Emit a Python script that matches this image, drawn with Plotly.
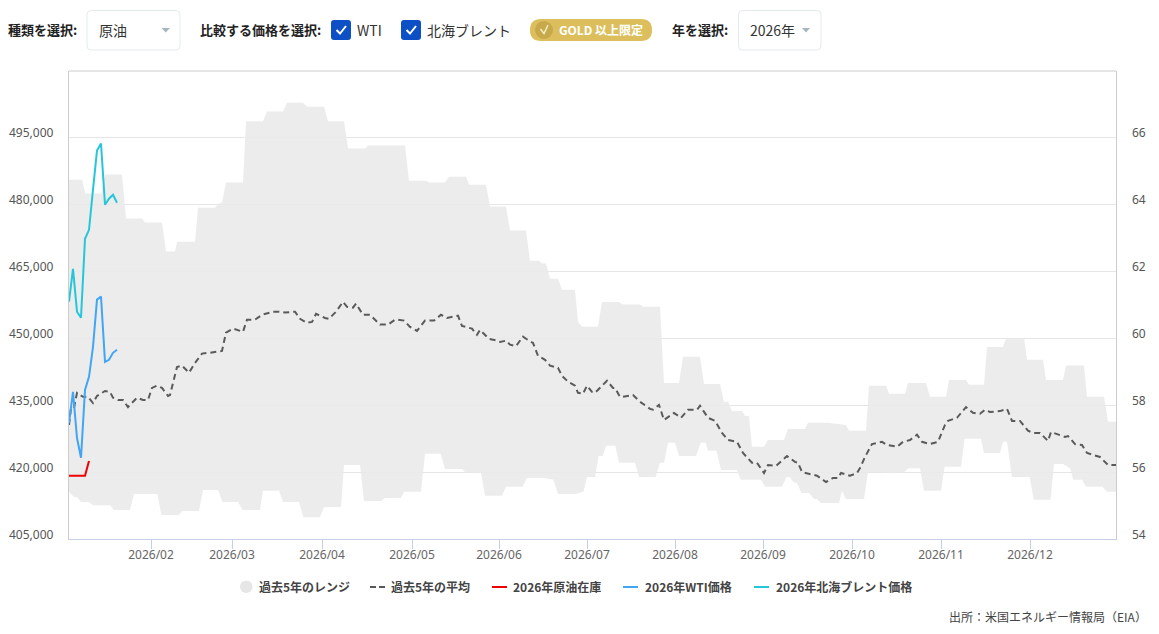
import plotly.graph_objects as go

# ---- data ----
month_labels = ["2026/02", "2026/03", "2026/04", "2026/05", "2026/06", "2026/07",
                "2026/08", "2026/09", "2026/10", "2026/11", "2026/12"]
month_pos = [20.5, 40.75, 63.25, 85.75, 107.5, 129.5, 151.5, 173.5, 195.75, 218, 240.25]

stock_ticks = [405000, 420000, 435000, 450000, 465000, 480000, 495000]
price_ticks = [54, 56, 58, 60, 62, 64, 66]

upper_day = [0, 3.25, 4.1, 8.1, 9, 13.25, 14.25, 18.25, 19, 23.25, 24.25, 26.5, 27, 31.5, 32.25, 36.5, 37.25,
             38.25, 39.25, 43.5, 44.25, 48.5, 49.5, 53.5, 54.5, 58.5, 59.5, 63.75, 64.75, 68.75, 69.75, 74,
             74.75, 84, 85, 89.25, 90, 94, 95, 99.25, 100, 104.25, 105.25, 109.25, 110.25, 114.25, 115.25,
             117.5, 118.25, 119.25, 120.25, 122.25, 123.25, 126.5, 127.25, 128.25, 132.25, 133.25, 137.5,
             138.5, 142.75, 143.5, 147.75, 148.75, 152.5, 153.5, 157.75, 158.75, 162.75, 163.75, 164.75,
             165.75, 168.25, 169, 170, 170.75, 173.75, 174.75, 178.75, 179.75, 184, 184.75, 189.75, 194.25,
             195, 199.25, 200, 204.25, 205, 209, 209.75, 214.25, 215.25, 219.25, 220, 224.25, 225, 228.75,
             229.5, 233.5, 234.25, 238.75, 239.5, 243.5, 244.25, 248.5, 249.25, 253.75, 254.5, 258.75,
             259.75, 261.75]
upper_stock = [485600, 485600, 482500, 482500, 486800, 486800, 476900, 476900, 476000, 476000, 469500, 469500,
               471700, 471700, 479300, 479300, 480200, 480500, 485000, 485000, 498700, 498700, 500900, 500900,
               502900, 502900, 502000, 502000, 498700, 498700, 492600, 492600, 493300, 493300, 485400, 485400,
               485000, 485000, 486300, 486300, 484500, 484500, 479600, 479600, 474200, 474200, 467400, 467400,
               466800, 466800, 463400, 463400, 460900, 460900, 453700, 452600, 452600, 458200, 458200, 457600,
               457600, 457100, 457100, 440000, 440000, 445900, 445900, 439800, 439800, 435800, 435800, 433700,
               433700, 432600, 432600, 425700, 425700, 427200, 427200, 429700, 429700, 431100, 431100, 430600,
               429300, 429300, 439400, 439400, 437600, 437600, 440000, 440000, 436900, 436900, 440700, 440700,
               439600, 439600, 448100, 448100, 450100, 450100, 445200, 445200, 440700, 440700, 443900, 443900,
               436900, 436900, 431300, 431300]

lower_day = [0, 1.25, 2, 3, 5, 6, 10.25, 11.25, 15.25, 16.25, 22.1, 23.1, 27.5, 28.25, 32.5, 33.5, 37.25, 38.4,
             42.25, 43.4, 47.75, 48.5, 52.5, 53.5, 57.5, 58.6, 62.75, 63.75, 68, 68.75, 72.75, 73.75, 78, 79,
             83, 83.75, 88, 89, 92.9, 94, 98.25, 99.25, 103, 104, 108.25, 109.25, 113.4, 114.5, 118.75, 121.1,
             122.25, 126.5, 128.6, 129.5, 131.5, 132.4, 133.4, 134.25, 136.6, 137.5, 141.5, 142.5, 146.65,
             147.75, 148.75, 149.75, 151.5, 152.5, 156.75, 157.9, 159.15, 159.75, 161.9, 163, 167, 167.9, 173,
             174, 178.25, 179.4, 180.15, 181.25, 182, 183.1, 185, 186.25, 187, 188, 192.5, 193.25, 194.25,
             198.75, 199.75, 203.5, 204.4, 208.6, 209.75, 212.75, 213.75, 218, 218.9, 223, 223.9, 228, 228.75,
             232.75, 233.5, 234.5, 235.75, 240.15, 241.2, 245.4, 246.25, 248.5, 250.25, 251.1, 253.25, 254.25,
             258.4, 259.5, 261.75]
lower_stock = [415600, 414400, 414400, 413300, 413300, 412600, 412600, 411500, 411500, 415100, 415100, 410400,
               410400, 411300, 411300, 416000, 416000, 413300, 413300, 411500, 411500, 415800, 415800, 413300,
               413300, 409900, 409900, 412200, 412200, 421600, 421600, 413500, 413500, 414200, 414200, 415600,
               415600, 424100, 424100, 420700, 420700, 419800, 419800, 414700, 414700, 416700, 416700, 418700,
               418700, 418300, 415100, 415100, 415600, 418900, 418900, 423600, 423600, 425900, 425900, 422100,
               422100, 418900, 418900, 422100, 422100, 426600, 426600, 423600, 423600, 426600, 426600, 424800,
               424800, 420500, 420500, 418300, 418300, 416700, 416700, 418900, 418900, 417600, 417600, 415300,
               415300, 414000, 414000, 413100, 413100, 415800, 414000, 414000, 420000, 420000, 419800, 419800,
               420900, 420900, 415800, 415800, 421200, 421200, 427500, 427500, 424300, 424300, 426800, 426800,
               418900, 418900, 413800, 413800, 421800, 421800, 420900, 418300, 418300, 416700, 416700, 415600,
               415600]

avg_day = [0, 0.5, 1.25, 2, 3.5, 4.75, 6, 7, 9, 10.25, 11, 12.25, 13.5, 14.75, 17, 18.5, 19.75, 20.75, 22, 23.25,
           24.75, 25.25, 26, 27, 28.25, 30, 31.5, 33.25, 35.25, 37, 38.25, 39.25, 41, 43.5, 44.5, 46.5, 48.25, 51,
           52.5, 54, 56.5, 57.75, 59.5, 60.75, 61.75, 64, 65, 66.75, 68.5, 69.5, 71, 71.75, 73.5, 75.25, 77.75,
           79.75, 81.5, 82.25, 83.75, 85.25, 87, 89, 91.25, 93, 94.5, 97.25, 98.25, 100.75, 102, 102.75, 105, 107,
           107.75, 109.25, 110.25, 111.75, 113.5, 115, 116, 117.25, 119, 120.25, 122.25, 123.25, 124.75, 126.5,
           127.25, 128.5, 129.5, 130.75, 131.5, 134.5, 136, 136.5, 137.75, 138.5, 141, 142.75, 145.25, 146, 147.5,
           148.75, 151.25, 153, 154.75, 157, 157.75, 159.75, 161.5, 163.25, 164.75, 167, 168.5, 170.75, 172,
           173.75, 174.75, 176.75, 179.5, 181.5, 182.25, 183.25, 185.25, 187, 189.25, 191, 192.25, 193, 195.25,
           197, 197.75, 199, 200.75, 203.25, 204.5, 207, 208.5, 210.25, 212, 213.25, 215.25, 217.25, 219, 219.75,
           222, 224.25, 226, 227.75, 229, 230.25, 232.75, 234.5, 235.75, 237.75, 239.75, 241, 242.75, 244.75,
           245.5, 249, 249.75, 251.5, 253.25, 254.5, 257.75, 259.75, 261.75]
avg_stock = [430600, 434400, 434400, 437800, 436900, 436900, 435500, 437100, 438200, 438000, 436700, 436200,
             436200, 434600, 436700, 436200, 436200, 438900, 439400, 438900, 437100, 437300, 440000, 443600,
             443900, 442300, 444500, 446600, 446800, 447000, 447200, 451300, 452200, 451500, 454200, 454200,
             455300, 456000, 456000, 455800, 456000, 454400, 453500, 453700, 455500, 454600, 454400, 456000,
             458200, 457100, 456900, 457800, 455300, 455300, 453100, 453100, 454200, 454200, 454000, 452600,
             451700, 454000, 454000, 455300, 454600, 455100, 452800, 452200, 450800, 451900, 449900, 449500,
             449200, 449500, 448600, 448300, 450400, 449500, 449000, 446100, 445200, 443900, 443400, 441600,
             440300, 439400, 437800, 437600, 439400, 438000, 437800, 440500, 438900, 438900, 436900, 436900,
             437300, 435800, 434200, 434000, 435100, 431700, 433300, 432200, 434000, 434000, 434900, 432200,
             431500, 428800, 427200, 426800, 424300, 422100, 422100, 419800, 421600, 421400, 423600, 422300,
             422100, 420000, 419600, 419200, 417800, 418700, 418700, 419800, 419200, 419800, 420900, 423400,
             426300, 426800, 426100, 425700, 426800, 427200, 428400, 426800, 426300, 426800, 430600, 431500,
             432200, 434600, 433300, 433100, 434000, 433500, 433700, 434200, 431500, 431500, 429300, 428800,
             428800, 427000, 429000, 427900, 428100, 426300, 426100, 424300, 423400, 421600, 421600]

stock_day = [0, 1, 2, 3, 4, 5]
stock_2026 = [419200, 419200, 419200, 419200, 419200, 422500]

price_day = [0, 1, 2, 3, 4, 5, 6, 7, 8, 9, 10, 11, 12]
wti_2026 = [57.47, 58.40, 57.02, 56.43, 58.46, 58.85, 59.75, 61.16, 61.25, 59.30, 59.36, 59.57, 59.66]
brent_2026 = [61.10, 62.08, 60.80, 60.62, 62.98, 63.25, 64.45, 65.62, 65.83, 64.00, 64.18, 64.30, 64.06]

FONT = "Noto Sans CJK JP"
L, R, T, B = 69, 1116, 71, 539
W, H = R - L, B - T
AVG, RED, BLUE, CYAN = "#5a5a5a", "#f00000", "#42a5f5", "#26c6da"


def px(x):
    return (x - L) / W


def py(y):
    return (B - y) / H


def rrect(x0, y0, x1, y1, r):
    X0, X1, Y0, Y1 = px(x0), px(x1), py(y0), py(y1)
    rx, ry = r / W, r / H
    return (f"M{X0 + rx},{Y0} L{X1 - rx},{Y0} Q{X1},{Y0} {X1},{Y0 - ry} L{X1},{Y1 + ry} Q{X1},{Y1} {X1 - rx},{Y1} "
            f"L{X0 + rx},{Y1} Q{X0},{Y1} {X0},{Y1 + ry} L{X0},{Y0 - ry} Q{X0},{Y0} {X0 + rx},{Y0} Z")


def poly(points, close=True):
    s = "M" + " L".join(f"{px(a)},{py(b)}" for a, b in points)
    return s + (" Z" if close else "")


shapes, annotations = [], []


def add_shape(path, fill=None, line=None, width=1):
    shapes.append(dict(type="path", xref="paper", yref="paper", path=path, fillcolor=fill or "rgba(0,0,0,0)",
                       line=dict(color=line or "rgba(0,0,0,0)", width=width if line else 0), layer="above"))


def text(x, y, s, size=13, color="#333333", bold=False, anchor="left"):
    annotations.append(dict(xref="paper", yref="paper", x=px(x), y=py(y), text=f"<b>{s}</b>" if bold else s,
                            showarrow=False, xanchor=anchor, yanchor="middle", borderpad=0,
                            font=dict(family=FONT, size=size, color=color)))


# top border of the plot
add_shape(poly([(L, T), (R, T)], close=False), line="#cccccc")

# --- header controls ---
text(7, 29.5, "種類を選択:", 13, "#222222", True)
add_shape(rrect(87, 10.5, 180, 50, 4), "#ffffff", "#e3ebee")
text(98, 30, "原油", 14, "#333333")
add_shape(poly([(161.5, 28), (170, 28), (165.7, 32.5)]), "#a9b5bd")

text(199, 29.5, "比較する価格を選択:", 13, "#222222", True)
for x0 in (331, 401):
    add_shape(rrect(x0, 20, x0 + 20, 40, 3), "#0d4fc4")
    add_shape(poly([(x0 + 5.5, 30), (x0 + 9, 33.5), (x0 + 15, 26)], close=False), line="#ffffff", width=2)
text(356, 30, "WTI", 14, "#333333")
text(425.5, 30, "北海ブレント", 14, "#333333")

add_shape(rrect(530, 19, 652, 41, 11), "#dcbf5c")
shapes.append(dict(type="circle", xref="paper", yref="paper", x0=px(535), x1=px(553), y0=py(39), y1=py(21),
                   fillcolor="#c7a94c", line=dict(width=0), layer="above"))
add_shape(poly([(540.5, 29), (544, 33.5), (548, 25)], close=False), line="#f6ecc4", width=1.5)
text(557.5, 29.5, "GOLD 以上限定", 12, "#ffffff", True)

text(671, 29.5, "年を選択:", 13, "#222222", True)
add_shape(rrect(738.5, 10.5, 821, 50, 4), "#ffffff", "#e3ebee")
text(748.5, 30, "2026年", 14, "#333333")
add_shape(poly([(802, 28), (810, 28), (806, 32.5)]), "#a9b5bd")

# --- axis tick labels sitting above their gridlines ---
for v in stock_ticks:
    annotations.append(dict(xref="paper", yref="y", x=px(55), y=v, yshift=5, text=f"{v:,}", showarrow=False,
                            xanchor="right", yanchor="middle", borderpad=0,
                            font=dict(family="Noto Sans", size=12, color="#555555")))
for v in price_ticks:
    annotations.append(dict(xref="paper", yref="y2", x=px(1131), y=v, yshift=5, text=str(v), showarrow=False,
                            xanchor="left", yanchor="middle", borderpad=0,
                            font=dict(family="Noto Sans", size=12, color="#555555")))

# --- legend ---
shapes.append(dict(type="circle", xref="paper", yref="paper", x0=px(240), x1=px(252.5), y0=py(593), y1=py(580.5),
                   fillcolor="#e6e6e6", line=dict(width=0)))
text(258, 586.5, "過去5年のレンジ", 12, "#444444", True)
add_shape(poly([(370, 587), (376, 587)], close=False), line=AVG, width=2)
add_shape(poly([(379, 587), (385, 587)], close=False), line=AVG, width=2)
text(390, 586.5, "過去5年の平均", 12, "#444444", True)
add_shape(poly([(492, 587), (507, 587)], close=False), line=RED, width=2)
text(511.5, 586.5, "2026年原油在庫", 12, "#444444", True)
add_shape(poly([(623, 587), (638, 587)], close=False), line=BLUE, width=2)
text(643.5, 586.5, "2026年WTI価格", 12, "#444444", True)
add_shape(poly([(754, 587), (769, 587)], close=False), line=CYAN, width=2)
text(774.5, 586.5, "2026年北海ブレント価格", 12, "#444444", True)

text(1148, 616, "出所：米国エネルギー情報局（EIA）", 12, "#444444", False, "right")

# --- traces ---
fig = go.Figure()
fig.add_trace(go.Scatter(x=upper_day + lower_day[::-1], y=upper_stock + lower_stock[::-1], mode="lines",
                         fill="toself", fillcolor="rgba(233,233,233,0.85)", line=dict(width=0),
                         name="過去5年のレンジ", hoverinfo="skip", showlegend=False))
fig.add_trace(go.Scatter(x=avg_day, y=avg_stock, mode="lines", name="過去5年の平均", showlegend=False,
                         line=dict(color=AVG, width=2, dash="6px,4px")))
fig.add_trace(go.Scatter(x=stock_day, y=stock_2026, mode="lines", name="2026年原油在庫", showlegend=False,
                         line=dict(color=RED, width=2)))
fig.add_trace(go.Scatter(x=price_day, y=wti_2026, mode="lines", name="2026年WTI価格", yaxis="y2", showlegend=False,
                         line=dict(color=BLUE, width=2)))
fig.add_trace(go.Scatter(x=price_day, y=brent_2026, mode="lines", name="2026年北海ブレント価格", yaxis="y2",
                         showlegend=False, line=dict(color=CYAN, width=2)))

fig.update_layout(
    width=1159, height=634, autosize=False,
    margin=dict(l=L, r=1159 - R, t=T, b=634 - B, pad=0),
    paper_bgcolor="#ffffff", plot_bgcolor="#ffffff", showlegend=False,
    font=dict(family="Noto Sans", size=12, color="#555555"),
    xaxis=dict(range=[0, W / 4], tickvals=month_pos, ticktext=month_labels, showgrid=False, zeroline=False,
               showline=True, linecolor="#c6d0e4", linewidth=1, ticks="outside", ticklen=9, tickcolor="#c6d0e4",
               ticklabelstandoff=-4, tickfont=dict(family="Noto Sans", size=12, color="#666666")),
    yaxis=dict(range=[405000, 510000], tickvals=stock_ticks, showticklabels=False, showgrid=True,
               gridcolor="#e6e6e6", gridwidth=1, zeroline=False, showline=True, mirror=True, linecolor="#cccccc",
               ticks=""),
    yaxis2=dict(range=[54, 68], tickvals=price_ticks, showticklabels=False, overlaying="y", side="right",
                showgrid=False, zeroline=False, showline=False, ticks=""),
    shapes=shapes, annotations=annotations,
)

fig.write_html("out.html", config=dict(displayModeBar=False),
               post_script="document.body.style.margin='0';document.body.style.overflow='hidden';")
